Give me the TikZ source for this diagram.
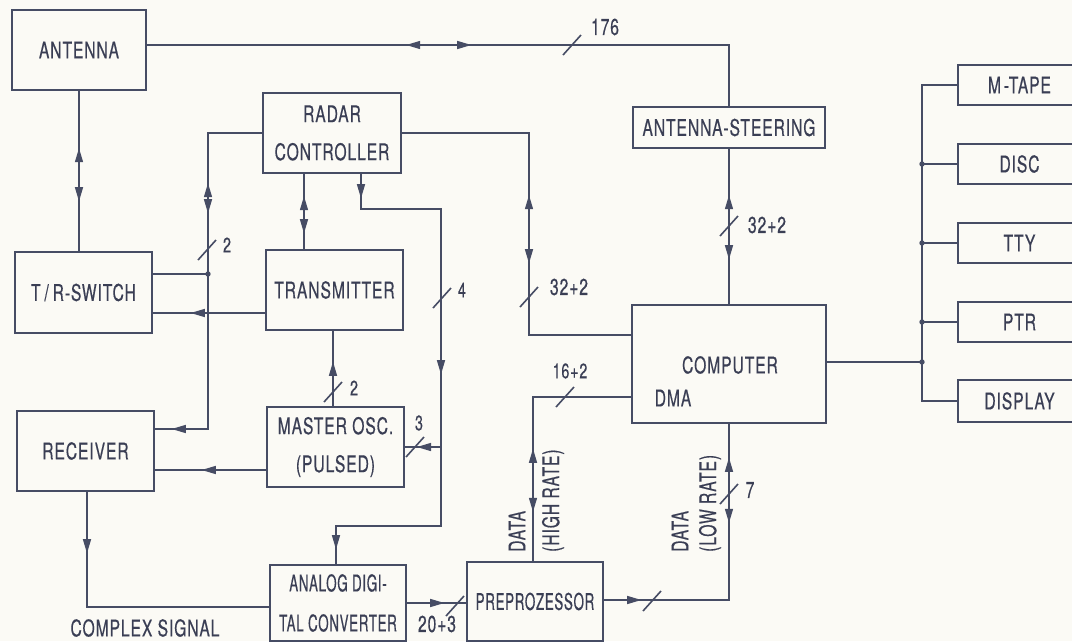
\documentclass[tikz,border=0pt]{standalone}
\usepackage{fontspec}
\setmainfont{TeX Gyre Heros}
\newfontfamily\din{TeX Gyre Heros}[FakeStretch=0.68,LetterSpace=4,FakeBold=0.4]
\newfontfamily\dinn{TeX Gyre Heros}[FakeStretch=0.58,LetterSpace=3,FakeBold=0.4]
\usetikzlibrary{arrows.meta,decorations.markings}
\definecolor{ink}{RGB}{70,76,100}
\definecolor{txt}{RGB}{58,62,84}
\definecolor{paper}{RGB}{251,250,245}
\newcommand{\bmark}[2]{\draw[conn] (#1-9,#2+10) -- (#1+9,#2-10);}
\begin{document}
\begin{tikzpicture}[x=1pt,y=-1pt,
  box/.style={draw=ink, line width=2.4pt, inner sep=0pt, text=txt,
    font=\din\fontsize{23}{38}\selectfont, align=center},
  nbox/.style={box, font=\dinn\fontsize{23}{40}\selectfont},
  conn/.style={draw=ink, line width=1.6pt},
  lab/.style={text=txt, font=\din\fontsize{21}{25}\selectfont, inner sep=0pt},
  labbig/.style={text=txt, font=\din\fontsize{23}{27}\selectfont, inner sep=0pt},
  fwd/.style={postaction={decorate,decoration={markings,
      mark=at position #1 with {\fill[ink] (0,0) -- (-14,-4.2) -- (-14,4.2) -- cycle;}}}},
  bwd/.style={postaction={decorate,decoration={markings,
      mark=at position #1 with {\fill[ink] (0,0) -- (14,-4.2) -- (14,4.2) -- cycle;}}}},
  jdot/.style={fill=ink}
]
\fill[paper] (0,0) rectangle (1072,641);
\useasboundingbox (0,0) rectangle (1072,641);

% boxes
\node[box, minimum width=134pt, minimum height=80pt] (ant) at (79,50) {ANTENNA};
\node[box, minimum width=138pt, minimum height=80pt] (rc) at (332,133) {RADAR\\CONTROLLER};
\node[box, minimum width=192pt, minimum height=41pt] (ast) at (729,127.5) {ANTENNA-STEERING};
\node[box, minimum width=137pt, minimum height=81pt] (trs) at (83.5,292.5) {T\,/\,R-SWITCH};
\node[box, minimum width=137pt, minimum height=80pt] (tx) at (334.5,290) {TRANSMITTER};
\node[box, minimum width=137pt, minimum height=80pt] (mo) at (335.5,447) {MASTER OSC.\\(PULSED)};
\node[box, minimum width=137pt, minimum height=80pt] (rx) at (85.5,451) {RECEIVER};
\node[nbox, minimum width=136pt, minimum height=76pt] (adc) at (338,603) {ANALOG DIGI-\\TAL CONVERTER};
\node[nbox, minimum width=136pt, minimum height=79pt] (pp) at (535,601.5) {PREPROZESSOR};
\node[box, minimum width=194pt, minimum height=118pt] (comp) at (729,364) {};
\node[labbig] (compt) at (730,365) {COMPUTER};
\node[labbig] (dma) at (673,398) {DMA};
\node[box, minimum width=123pt, minimum height=40pt] (mtape) at (1019.5,85) {M\hspace{3pt}-TAPE};
\node[box, minimum width=123pt, minimum height=40pt] (disc) at (1019.5,164) {DISC};
\node[box, minimum width=123pt, minimum height=40pt] (tty) at (1019.5,243) {TTY};
\node[box, minimum width=123pt, minimum height=40pt] (ptr) at (1019.5,322) {PTR};
\node[box, minimum width=123pt, minimum height=42pt] (disp) at (1019.5,401) {DISPLAY};

% bus to peripherals
\coordinate (bt) at (922,85);
\draw[conn] (mtape.west) -- (mtape.west -| bt) -- (disp.west -| bt) -- (disp.west);
\draw[conn] (disc.west) -- (disc.west -| bt);
\draw[conn] (tty.west) -- (tty.west -| bt);
\draw[conn] (ptr.west) -- (ptr.west -| bt);
\coordinate (cb) at (922,362);
\draw[conn] (comp.east |- cb) -- (cb);
\fill[jdot] (disc.west -| bt) circle (2.7pt);
\fill[jdot] (tty.west -| bt) circle (2.7pt);
\fill[jdot] (ptr.west -| bt) circle (2.7pt);
\fill[jdot] (cb) circle (2.7pt);

% antenna -> antenna steering
\draw[conn, bwd=259pt, fwd=324pt] ([yshift=5pt]ant.east) -| (ast.north);
\bmark{572}{45}
\node[labbig] (l176) at (605,27) {176};

% antenna <-> T/R switch
\draw[conn, bwd=57pt, fwd=110pt] (ant.south) -- (ant.south |- trs.north);

% radar controller left line
\coordinate (c3) at (208,429);
\draw[conn, bwd=104pt, fwd=134pt, fwd=386pt] (rc.west) -| (c3) -- (c3 -| rx.east);
\coordinate (j2) at (208,274);
\draw[conn] (j2) -- (j2 -| trs.east);
\fill[jdot] (j2) circle (2.7pt);
\bmark{207}{250}
\node[lab] (l2a) at (227,245) {2};

% transmitter -> T/R switch
\coordinate (c4) at (266,313);
\draw[conn, fwd=74pt] (tx.west |- c4) -- (c4 -| trs.east);

% radar controller <-> transmitter
\coordinate (c5) at (304,0);
\draw[conn, bwd=22pt, fwd=59pt] (rc.south -| c5) -- (tx.north -| c5);

% radar controller -> master osc / ADC
\coordinate (c6a) at (361,0);
\coordinate (c6b) at (441,209);
\coordinate (c6c) at (336,526);
\draw[conn, fwd=24pt, fwd=280pt, fwd=560pt] (rc.south -| c6a) |- (c6b) -- (c6b |- c6c) -- (c6c) -- (c6c |- adc.north);
\coordinate (c6d) at (441,447);
\draw[conn, fwd=24pt] (c6d) -- (c6d -| mo.east);
\bmark{442}{298}
\node[lab] (l4) at (462,290) {4};
\bmark{415}{447}
\node[lab] (l3) at (419,423) {3};

% master osc -> transmitter
\coordinate (c7) at (333,0);
\draw[conn, fwd=44pt] (mo.north -| c7) -- (tx.south -| c7);
\bmark{333}{392}
\node[lab] (l2b) at (354,388) {2};

% master osc -> receiver
\coordinate (c8) at (0,470);
\draw[conn, fwd=64pt] (mo.west |- c8) -- (rx.east |- c8);

% receiver -> ADC
\coordinate (c9) at (87,607);
\draw[conn, fwd=61pt] (rx.south -| c9) -- (c9) -- (c9 -| adc.west);
\node[labbig] (lcs) at (145,628) {COMPLEX SIGNAL};

% ADC -> preprozessor
\coordinate (c10) at (0,603);
\draw[conn, fwd=37pt] (adc.east |- c10) -- (pp.west |- c10);
\bmark{455}{606}
\node[labbig] (l203) at (437,624) {20+3};

% preprozessor -> computer (low rate)
\coordinate (c11) at (729,600);
\draw[conn, fwd=37pt, bwd=202pt, fwd=267pt] (pp.east |- c11) -- (c11) -- (comp.south);
\bmark{652}{601}
\bmark{729}{494}
\node[labbig] (l7) at (750,490) {7};
\node[labbig, rotate=90, anchor=west] (dl1) at (680,552) {DATA};
\node[labbig, rotate=90, anchor=west] (dl2) at (710,552) {(LOW RATE)};

% preprozessor <-> computer (high rate)
\coordinate (c12) at (533,397);
\draw[conn, fwd=112pt, bwd=49pt] (pp.north -| c12) -- (c12) -- (c12 -| comp.west);
\bmark{565}{397}
\node[lab] (l162) at (570,371) {16+2};
\node[labbig, rotate=90, anchor=west] (dh1) at (517,552) {DATA};
\node[labbig, rotate=90, anchor=west] (dh2) at (553,552) {(HIGH RATE)};

% radar controller <-> computer
\coordinate (c13) at (529,335);
\draw[conn, bwd=189pt, fwd=257pt] (rc.east) -| (c13) -- (c13 -| comp.west);
\bmark{529}{297}
\node[labbig] (l322a) at (569,287) {32+2};

% antenna steering <-> computer
\draw[conn, bwd=46pt, fwd=110pt] (ast.south) -- (comp.north);
\bmark{729}{226}
\node[labbig] (l322b) at (767,225) {32+2};
\end{tikzpicture}
\end{document}
